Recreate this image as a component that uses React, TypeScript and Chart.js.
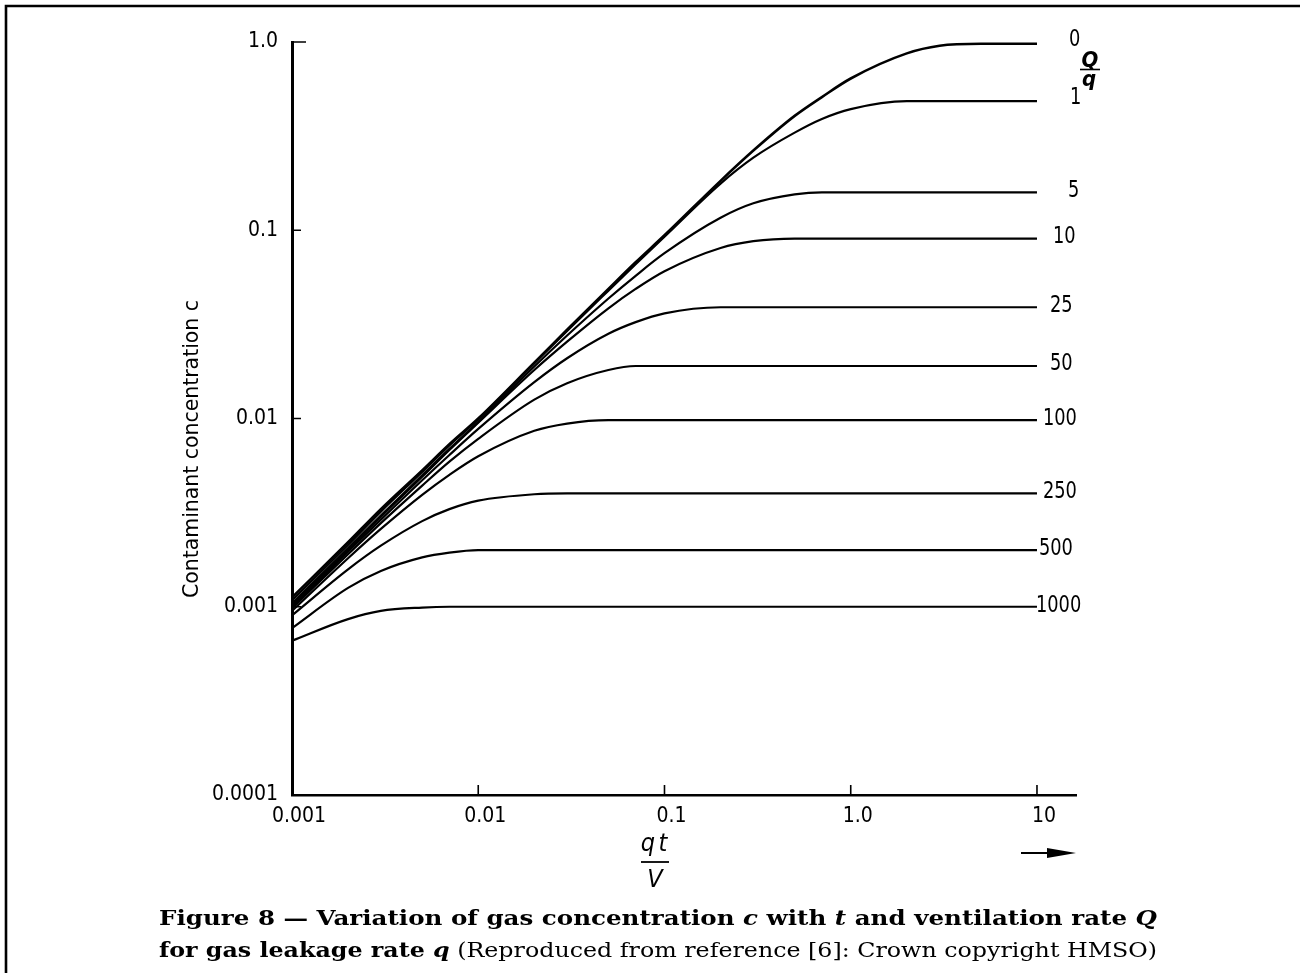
import React, { useEffect, useRef } from 'react';
import { Chart, registerables } from 'chart.js';

Chart.register(...registerables);

// qt/V sample positions (x axis)
const QT_V = [0.001, 0.002, 0.003, 0.005, 0.007, 0.01, 0.02, 0.03, 0.05, 0.07, 0.1, 0.2, 0.3, 0.5, 0.7, 1, 2, 3, 5, 10];

// Q/q values labelling each curve
const RATIO_LABELS = ['0', '1', '5', '10', '25', '50', '100', '250', '500', '1000'];

// contaminant concentration c for each Q/q
const C_Q0 = [0.00112, 0.0022, 0.0033, 0.0053, 0.0073, 0.01, 0.0198, 0.0296, 0.0488, 0.0676, 0.094, 0.183, 0.265, 0.405, 0.51, 0.64, 0.87, 0.955, 0.978, 0.978];
const C_Q1 = [0.00108, 0.00213, 0.0032, 0.0052, 0.0072, 0.0099, 0.0196, 0.0292, 0.0478, 0.066, 0.0925, 0.177, 0.243, 0.33, 0.39, 0.44, 0.485, 0.485, 0.485, 0.485];
const C_Q5 = [0.00104, 0.00205, 0.00305, 0.005, 0.0069, 0.0096, 0.0189, 0.0276, 0.0434, 0.0573, 0.0755, 0.1165, 0.139, 0.155, 0.159, 0.159, 0.159, 0.159, 0.159, 0.159];
const C_Q10 = [0.00102, 0.002, 0.003, 0.0049, 0.0068, 0.0095, 0.0181, 0.0256, 0.0385, 0.0488, 0.0606, 0.0805, 0.0875, 0.0903, 0.0903, 0.0903, 0.0903, 0.0903, 0.0903, 0.0903];
const C_Q25 = [0.001, 0.00196, 0.0029, 0.0047, 0.0064, 0.0088, 0.0156, 0.0209, 0.0282, 0.0325, 0.0362, 0.039, 0.039, 0.039, 0.039, 0.039, 0.039, 0.039, 0.039, 0.039];
const C_Q50 = [0.00098, 0.0019, 0.00278, 0.0044, 0.0059, 0.0078, 0.0126, 0.0154, 0.0181, 0.019, 0.019, 0.019, 0.019, 0.019, 0.019, 0.019, 0.019, 0.019, 0.019, 0.019];
const C_Q100 = [0.00095, 0.00181, 0.00259, 0.00393, 0.00502, 0.0063, 0.0086, 0.0094, 0.0098, 0.0098, 0.0098, 0.0098, 0.0098, 0.0098, 0.0098, 0.0098, 0.0098, 0.0098, 0.0098, 0.0098];
const C_Q250 = [0.0009, 0.00158, 0.00211, 0.00285, 0.0033, 0.00366, 0.00396, 0.004, 0.004, 0.004, 0.004, 0.004, 0.004, 0.004, 0.004, 0.004, 0.004, 0.004, 0.004, 0.004];
const C_Q500 = [0.00077, 0.00126, 0.00155, 0.00183, 0.00194, 0.002, 0.002, 0.002, 0.002, 0.002, 0.002, 0.002, 0.002, 0.002, 0.002, 0.002, 0.002, 0.002, 0.002, 0.002];
const C_Q1000 = [0.00066, 0.00086, 0.00095, 0.00099, 0.001, 0.001, 0.001, 0.001, 0.001, 0.001, 0.001, 0.001, 0.001, 0.001, 0.001, 0.001, 0.001, 0.001, 0.001, 0.001];

// axis ticks
const X_TICKS = [0.001, 0.01, 0.1, 1, 10];
const X_TICK_LABELS = ['0.001', '0.01', '0.1', '1.0', '10'];
const Y_TICKS = [0.0001, 0.001, 0.01, 0.1, 1];
const Y_TICK_LABELS = ['0.0001', '0.001', '0.01', '0.1', '1.0'];

// texts
const Y_TITLE = 'Contaminant concentration c';
const CAPTION_1 = [
  { t: 'Figure 8 — Variation of gas concentration ', s: 'bold' },
  { t: 'c', s: 'italic bold' },
  { t: ' with ', s: 'bold' },
  { t: 't', s: 'italic bold' },
  { t: ' and ventilation rate ', s: 'bold' },
  { t: 'Q', s: 'italic bold' },
];
const CAPTION_2 = [
  { t: 'for gas leakage rate ', s: 'bold' },
  { t: 'q', s: 'italic bold' },
  { t: ' (Reproduced from reference [6]: Crown copyright HMSO)', s: 'normal' },
];

// layout / style (not data)
const NUM_FAMILY = "'Liberation Sans Narrow', 'DejaVu Sans Condensed', 'Liberation Sans', sans-serif";
const TITLE_FAMILY = "'DejaVu Sans Condensed', 'DejaVu Sans', sans-serif";
const SERIF = "'DejaVu Serif', 'Liberation Serif', serif";
const LABEL_DX = [32, 33, 31, 16, 13, 13, 6, 6, 2, -1];
const LABEL_DY = [-4, -3, -1, -2, -1, -2, -1, -1, -1, -1];

const tickLabel = (list: number[], labels: string[], v: number) => {
  const i = list.findIndex((t) => Math.abs(Math.log10(t) - Math.log10(v)) < 1e-6);
  return i >= 0 ? labels[i] : '';
};

function drawFitted(ctx: CanvasRenderingContext2D, runs: { t: string; s: string }[], x0: number, x1: number, y: number, size: number) {
  let total = 0;
  runs.forEach((r) => {
    ctx.font = `${r.s} ${size}px ${SERIF}`;
    total += ctx.measureText(r.t).width;
  });
  const k = (x1 - x0) / total;
  ctx.save();
  ctx.translate(x0, y);
  ctx.scale(k, 1);
  ctx.textBaseline = 'alphabetic';
  ctx.textAlign = 'left';
  let x = 0;
  runs.forEach((r) => {
    ctx.font = `${r.s} ${size}px ${SERIF}`;
    ctx.fillText(r.t, x, 0);
    x += ctx.measureText(r.t).width;
  });
  ctx.restore();
}

function textScaled(ctx: CanvasRenderingContext2D, t: string, x: number, y: number, sx: number) {
  ctx.save();
  ctx.translate(x, y);
  ctx.scale(sx, 1);
  ctx.fillText(t, 0, 0);
  ctx.restore();
}

const decorPlugin = {
  id: 'decor',
  beforeDraw(chart: any) {
    const ctx = chart.ctx;
    ctx.save();
    ctx.fillStyle = '#fff';
    ctx.fillRect(0, 0, chart.width, chart.height);
    ctx.restore();
  },
  afterDraw(chart: any) {
    const ctx: CanvasRenderingContext2D = chart.ctx;
    const xs = chart.scales.x;
    const ys = chart.scales.y;
    const area = chart.chartArea;
    ctx.save();
    ctx.strokeStyle = '#000';
    ctx.fillStyle = '#000';

    // frame (top and left edges)
    ctx.lineWidth = 2.6;
    ctx.beginPath();
    ctx.moveTo(4.7, 6);
    ctx.lineTo(1300, 6);
    ctx.moveTo(6, 4.7);
    ctx.lineTo(6, 973);
    ctx.stroke();

    // inward tick marks
    ctx.lineWidth = 1.6;
    ctx.beginPath();
    Y_TICKS.forEach((v) => {
      if (v === Y_TICKS[0]) return;
      const y = ys.getPixelForValue(v);
      const len = v === 1 ? 14 : 9;
      ctx.moveTo(area.left, y);
      ctx.lineTo(area.left + len, y);
    });
    X_TICKS.forEach((v) => {
      if (v === X_TICKS[0]) return;
      const x = xs.getPixelForValue(v);
      ctx.moveTo(x, area.bottom);
      ctx.lineTo(x, area.bottom - 10);
    });
    ctx.stroke();

    // y-axis title, fitted to its span
    ctx.save();
    ctx.font = `22px ${TITLE_FAMILY}`;
    const tw = ctx.measureText(Y_TITLE).width;
    ctx.translate(192, 449);
    ctx.rotate(-Math.PI / 2);
    ctx.scale(298 / tw, 1);
    ctx.textAlign = 'center';
    ctx.textBaseline = 'middle';
    ctx.fillText(Y_TITLE, 0, 0);
    ctx.restore();

    // x-axis title: qt / V
    ctx.font = `italic 25px ${NUM_FAMILY}`;
    ctx.textAlign = 'center';
    ctx.textBaseline = 'alphabetic';
    ctx.fillText('q', 648, 851);
    ctx.fillText('t', 663, 851);
    ctx.fillText('V', 655, 887);
    ctx.lineWidth = 1.8;
    ctx.beginPath();
    ctx.moveTo(641, 862);
    ctx.lineTo(669, 862);
    ctx.stroke();

    // arrow
    ctx.lineWidth = 2;
    ctx.beginPath();
    ctx.moveTo(1021, 853);
    ctx.lineTo(1050, 853);
    ctx.stroke();
    ctx.beginPath();
    ctx.moveTo(1047, 848);
    ctx.lineTo(1076, 853);
    ctx.lineTo(1047, 858);
    ctx.closePath();
    ctx.fill();

    // curve labels
    ctx.font = `23px ${NUM_FAMILY}`;
    ctx.textAlign = 'left';
    ctx.textBaseline = 'middle';
    const xEnd = xs.getPixelForValue(QT_V[QT_V.length - 1]);
    chart.data.datasets.forEach((ds: any, i: number) => {
      const last = ds.data[ds.data.length - 1].y;
      const y = ys.getPixelForValue(last);
      textScaled(ctx, RATIO_LABELS[i], xEnd + LABEL_DX[i], y + LABEL_DY[i], 0.86);
    });

    // Q/q
    ctx.font = `italic bold 22px ${NUM_FAMILY}`;
    ctx.textAlign = 'center';
    ctx.textBaseline = 'alphabetic';
    ctx.fillText('Q', 1090, 67);
    ctx.fillText('q', 1089, 86);
    ctx.lineWidth = 1.6;
    ctx.beginPath();
    ctx.moveTo(1080, 69.5);
    ctx.lineTo(1100, 69.5);
    ctx.stroke();

    // caption
    drawFitted(ctx, CAPTION_1, 159, 1157, 925, 21);
    drawFitted(ctx, CAPTION_2, 159, 1157, 957, 21);

    ctx.restore();
  },
};

export default function App() {
  const ref = useRef<HTMLCanvasElement>(null);
  useEffect(() => {
    const series = [C_Q0, C_Q1, C_Q5, C_Q10, C_Q25, C_Q50, C_Q100, C_Q250, C_Q500, C_Q1000];
    const datasets = series.map((s, i) => ({
      label: RATIO_LABELS[i],
      data: QT_V.map((x, j) => ({ x, y: s[j] })),
      borderColor: '#000',
      backgroundColor: '#000',
      borderWidth: i === 0 ? 2.6 : 2.2,
      pointRadius: 0,
      cubicInterpolationMode: 'monotone' as const,
      fill: false,
      clip: false as any,
    }));
    const chart = new Chart(ref.current as HTMLCanvasElement, {
      type: 'line',
      data: { datasets },
      options: {
        animation: false,
        responsive: false,
        devicePixelRatio: 1,
        events: [],
        layout: { padding: { left: 0, top: 42, right: 224, bottom: 0 } },
        plugins: { legend: { display: false }, tooltip: { enabled: false } },
        scales: {
          x: {
            type: 'logarithmic',
            position: 'bottom',
            min: 0.001,
            max: 16.2,
            afterBuildTicks: (s: any) => {
              s.ticks = X_TICKS.map((v) => ({ value: v }));
            },
            afterFit: (s: any) => {
              s.height = 178;
            },
            grid: { display: false, drawTicks: false },
            border: { display: true, color: '#000', width: 2.6 },
            ticks: {
              color: '#000',
              font: { family: NUM_FAMILY, size: 21 },
              padding: 9,
              labelOffset: 7,
              maxRotation: 0,
              autoSkip: false,
              callback: (v: any) => tickLabel(X_TICKS, X_TICK_LABELS, Number(v)),
            },
          },
          y: {
            type: 'logarithmic',
            position: 'left',
            min: 0.0001,
            max: 1,
            afterBuildTicks: (s: any) => {
              s.ticks = Y_TICKS.map((v) => ({ value: v }));
            },
            afterFit: (s: any) => {
              s.width = 292;
            },
            grid: { display: false, drawTicks: false },
            border: { display: true, color: '#000', width: 3 },
            ticks: {
              color: '#000',
              font: { family: NUM_FAMILY, size: 21 },
              padding: 14,
              autoSkip: false,
              callback: (v: any) => tickLabel(Y_TICKS, Y_TICK_LABELS, Number(v)),
            },
          },
        },
      },
      plugins: [decorPlugin],
    } as any);
    return () => chart.destroy();
  }, []);
  return (
    <div style={{ position: 'absolute', left: 0, top: 0, width: 1300, height: 973, background: '#fff' }}>
      <canvas ref={ref} width={1300} height={973} style={{ display: 'block', width: 1300, height: 973 }} />
    </div>
  );
}
